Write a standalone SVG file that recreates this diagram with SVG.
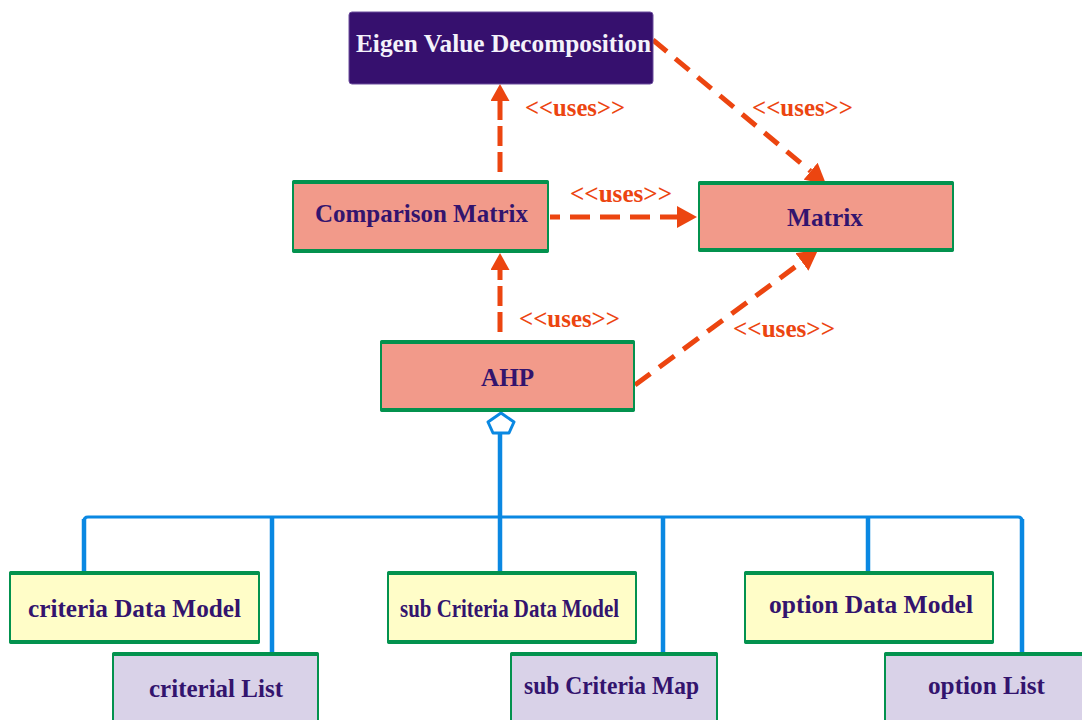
<svg xmlns="http://www.w3.org/2000/svg" width="1082" height="720" viewBox="0 0 1082 720">
<style>
.nt{font-family:"Liberation Serif","Times New Roman",serif;font-weight:bold;font-size:26px;fill:#33146e}
.lbl{font-family:"Liberation Serif","Times New Roman",serif;font-weight:bold;font-size:25px;fill:#ec4510}
.sal{fill:#f29a8a;stroke:#03924e;stroke-width:2}
.yel{fill:#fffdc8;stroke:#03924e;stroke-width:2}
.lav{fill:#d9d2e8;stroke:#03924e;stroke-width:2}
.edge{stroke:#03924e;stroke-width:4;stroke-linecap:round}
.dash{fill:none;stroke:#ec4510;stroke-width:5}
.blue{fill:none;stroke:#0a88e2;stroke-width:4.5}
</style>
<defs>
<marker id="arr" markerUnits="userSpaceOnUse" markerWidth="20" markerHeight="22" viewBox="0 0 20 22" refX="0" refY="11" orient="auto">
<path d="M0,0 L20,11 L0,22 z" fill="#ec4510"/>
</marker>
<marker id="arrS" markerUnits="userSpaceOnUse" markerWidth="17" markerHeight="19" viewBox="0 0 17 19" refX="0" refY="9.5" orient="auto">
<path d="M0,0 L17,9.5 L0,19 z" fill="#ec4510"/>
</marker>
</defs>
<rect width="1082" height="720" fill="#ffffff"/>

<g id="connectors">
<path class="dash" d="M500,172 L500,101" stroke-dasharray="20 6" marker-end="url(#arrS)"/>
<path class="dash" d="M500,332 L500,270" stroke-dasharray="20 6" marker-end="url(#arrS)"/>
<path class="dash" d="M550,217 L677,217" stroke-dasharray="20 10" stroke-dashoffset="10" marker-end="url(#arr)"/>
<path class="dash" d="M653,40 L810.6,171.2" stroke-dasharray="18 11" marker-end="url(#arr)"/>
<path class="dash" d="M635,385 L801.9,261.9" stroke-dasharray="19 11" marker-end="url(#arr)"/>
<text class="lbl" x="525" y="116" textLength="100" lengthAdjust="spacingAndGlyphs">&lt;&lt;uses&gt;&gt;</text>
<text class="lbl" x="752" y="116" textLength="101" lengthAdjust="spacingAndGlyphs">&lt;&lt;uses&gt;&gt;</text>
<text class="lbl" x="570" y="202" textLength="102" lengthAdjust="spacingAndGlyphs">&lt;&lt;uses&gt;&gt;</text>
<text class="lbl" x="519" y="327" textLength="101" lengthAdjust="spacingAndGlyphs">&lt;&lt;uses&gt;&gt;</text>
<text class="lbl" x="733" y="337" textLength="102" lengthAdjust="spacingAndGlyphs">&lt;&lt;uses&gt;&gt;</text>
<path class="blue" d="M84,572 V521 Q84,517 88,517 H1018 Q1022,517 1022,521 V653" style="stroke-width:3"/>
<path class="blue" d="M84,572 V519"/>
<path class="blue" d="M1022,653 V519"/>
<path class="blue" d="M272,517 V653"/>
<path class="blue" d="M500,434 V572"/>
<path class="blue" d="M663,517 V653"/>
<path class="blue" d="M868,517 V572"/>
<polygon points="501,413 514,422 509,433 493,433 488,422" fill="#ffffff" stroke="#0a88e2" stroke-width="3" stroke-linejoin="round"/>
</g>

<g id="eigen">
<rect x="349" y="12" width="304" height="72" rx="3" fill="#36106e" stroke="#6b4c9c" stroke-width="1"/>
<text class="nt" x="356" y="52" textLength="295" lengthAdjust="spacingAndGlyphs" style="fill:#f4f2fa">Eigen Value Decomposition</text>
</g>

<g id="comparison">
<rect class="sal" x="293" y="181" width="255" height="71" rx="2"/>
<path class="edge" d="M294,182 H547 M294,251 H547"/>
<text class="nt" x="315" y="222" textLength="213" lengthAdjust="spacingAndGlyphs">Comparison Matrix</text>
</g>

<g id="matrix">
<rect class="sal" x="699" y="182" width="254" height="69" rx="2"/>
<path class="edge" d="M700,183 H952 M700,250 H952"/>
<text class="nt" x="787" y="226" textLength="76" lengthAdjust="spacingAndGlyphs">Matrix</text>
</g>

<g id="ahp">
<rect class="sal" x="381" y="341" width="253" height="70" rx="2"/>
<path class="edge" d="M382,342 H633 M382,410 H633"/>
<text class="nt" x="481" y="386" textLength="53" lengthAdjust="spacingAndGlyphs">AHP</text>
</g>

<g id="criteriaDataModel">
<rect class="yel" x="10" y="572" width="249" height="71" rx="2"/>
<path class="edge" d="M11,573 H258 M11,642 H258"/>
<text class="nt" x="28" y="617" textLength="213" lengthAdjust="spacingAndGlyphs">criteria Data Model</text>
</g>

<g id="subCriteriaDataModel">
<rect class="yel" x="388" y="572" width="248" height="71" rx="2"/>
<path class="edge" d="M389,573 H635 M389,642 H635"/>
<text class="nt" x="400" y="617" textLength="219" lengthAdjust="spacingAndGlyphs">sub Criteria Data Model</text>
</g>

<g id="optionDataModel">
<rect class="yel" x="745" y="572" width="248" height="71" rx="2"/>
<path class="edge" d="M746,573 H992 M746,642 H992"/>
<text class="nt" x="769" y="613" textLength="204" lengthAdjust="spacingAndGlyphs">option Data Model</text>
</g>

<g id="criterialList">
<rect class="lav" x="113" y="653" width="205" height="90" rx="2"/>
<path class="edge" d="M114,654 H317"/>
<text class="nt" x="149" y="697" textLength="134" lengthAdjust="spacingAndGlyphs">criterial List</text>
</g>

<g id="subCriteriaMap">
<rect class="lav" x="511" y="653" width="206" height="90" rx="2"/>
<path class="edge" d="M512,654 H716"/>
<text class="nt" x="524" y="694" textLength="175" lengthAdjust="spacingAndGlyphs">sub Criteria Map</text>
</g>

<g id="optionList">
<rect class="lav" x="885" y="653" width="220" height="90" rx="2"/>
<path class="edge" d="M886,654 H1090"/>
<text class="nt" x="928" y="694" textLength="117" lengthAdjust="spacingAndGlyphs">option List</text>
</g>
</svg>
